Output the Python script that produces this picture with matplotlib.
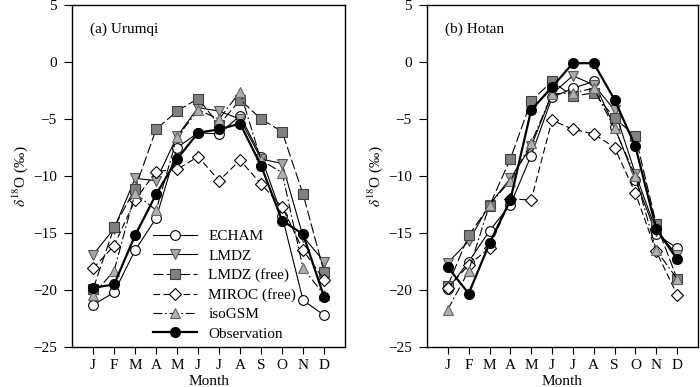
import matplotlib
matplotlib.use("Agg")
import matplotlib.pyplot as plt
import numpy as np

plt.rcParams['font.family'] = ['Liberation Serif', 'DejaVu Serif']
plt.rcParams['mathtext.fontset'] = 'stix'
font_size = 11

months = ['J', 'F', 'M', 'A', 'M', 'J', 'J', 'A', 'S', 'O', 'N', 'D']

# Urumqi
uru_echam = [-21.3, -20.2, -16.5, -13.7, -7.5, -6.2, -6.3, -4.7, -8.3, -13.5, -20.9, -22.2]
uru_lmdz = [-16.9, -14.6, -10.2, -10.4, -6.5, -4.0, -4.3, -5.0, -8.5, -8.9, -15.3, -17.5]
uru_lmdz_free = [-19.9, -14.5, -11.1, -5.9, -4.3, -3.2, -5.5, -3.3, -5.0, -6.1, -11.6, -18.4]
uru_miroc = [-18.1, -16.1, -12.1, -9.6, -9.4, -8.3, -10.4, -8.6, -10.7, -12.7, -16.5, -19.1]
uru_isogsm = [-20.4, -18.3, -11.5, -13.0, -6.6, -4.2, -5.0, -2.6, -8.6, -9.7, -18.1, -20.4]
uru_obs = [-19.8, -19.5, -15.2, -11.6, -8.5, -6.2, -5.9, -5.4, -9.1, -13.9, -15.1, -20.6]

# Hotan
hot_echam = [-19.9, -17.5, -14.8, -12.5, -8.2, -3.1, -2.3, -1.7, -5.7, -10.3, -15.1, -16.3]
hot_lmdz = [-17.6, -15.7, -12.5, -10.2, -7.4, -2.8, -1.2, -2.0, -4.2, -9.8, -14.8, -16.9]
hot_lmdz_free = [-19.6, -15.2, -12.6, -8.5, -3.4, -1.7, -3.0, -2.7, -4.9, -6.5, -14.2, -19.0]
hot_miroc = [-19.8, -17.8, -16.3, -12.0, -12.1, -5.1, -5.9, -6.3, -7.5, -11.5, -16.6, -20.4]
hot_isogsm = [-21.7, -18.3, -12.5, -10.4, -7.1, -2.8, -2.7, -2.3, -5.8, -10.0, -16.5, -19.0]
hot_obs = [-18.0, -20.3, -15.9, -12.1, -4.2, -2.2, -0.1, -0.1, -3.3, -7.4, -14.6, -17.3]

fig = plt.figure(figsize=(7, 3.87), dpi=100)
ax1 = fig.add_axes([0.103, 0.103, 0.39, 0.884])
ax2 = fig.add_axes([0.61, 0.103, 0.387, 0.884])

x = np.arange(1, 13)


def draw(ax, echam, lmdz, lmdz_free, miroc, isogsm, obs):
    ms = 7
    ax.plot(x, echam, color='black', lw=0.8, ls='-', marker='o', ms=ms,
            mfc='white', mec='black', mew=0.8, label='ECHAM', zorder=3)
    ax.plot(x, lmdz, color='black', lw=0.8, ls='-', marker='v', ms=ms,
            mfc='#a8a8a8', mec='#555555', mew=0.8, label='LMDZ', zorder=3)
    ax.plot(x, lmdz_free, color='black', lw=0.8, ls=(0, (9, 3)), marker='s', ms=6.5,
            mfc='#808080', mec='#404040', mew=0.8, label='LMDZ (free)', zorder=3)
    ax.plot(x, miroc, color='black', lw=0.8, ls=(0, (6, 3)), marker='D', ms=6,
            mfc='white', mec='black', mew=0.8, label='MIROC (free)', zorder=3)
    ax.plot(x, isogsm, color='black', lw=0.8, ls=(0, (8, 2.5, 1.5, 2.5)), marker='^', ms=ms,
            mfc='#b0b0b0', mec='#666666', mew=0.8, label='isoGSM', zorder=3)
    ax.plot(x, obs, color='black', lw=1.6, ls='-', marker='o', ms=ms,
            mfc='black', mec='black', label='Observation', zorder=4)

    ax.set_xlim(0, 13)
    ax.set_ylim(-25, 5)
    ax.set_xticks(x)
    ax.set_xticklabels(months)
    ax.set_yticks([5, 0, -5, -10, -15, -20, -25])
    ax.tick_params(axis='x', labelsize=font_size, direction='out', length=5,
                   top=False)
    ax.tick_params(axis='y', labelsize=font_size, direction='out', length=6,
                   pad=5, right=False)
    ax.set_xlabel('Month', fontsize=font_size, labelpad=2)
    ax.set_ylabel(r'$\delta^{18}$O (‰)', fontsize=font_size, labelpad=2)
    for s in ax.spines.values():
        s.set_linewidth(1.0)


draw(ax1, uru_echam, uru_lmdz, uru_lmdz_free, uru_miroc, uru_isogsm, uru_obs)
draw(ax2, hot_echam, hot_lmdz, hot_lmdz_free, hot_miroc, hot_isogsm, hot_obs)

ax1.text(0.066, 0.93, '(a) Urumqi', transform=ax1.transAxes, fontsize=font_size,
         va='center', ha='left')
ax2.text(0.066, 0.93, '(b) Hotan', transform=ax2.transAxes, fontsize=font_size,
         va='center', ha='left')

ax1.legend(loc='upper left', bbox_to_anchor=(0.297, 0.343), frameon=False,
           fontsize=font_size, handlelength=2.9, handletextpad=0.7,
           labelspacing=0.37, borderpad=0, borderaxespad=0)

fig.savefig('out.png', dpi=100)
